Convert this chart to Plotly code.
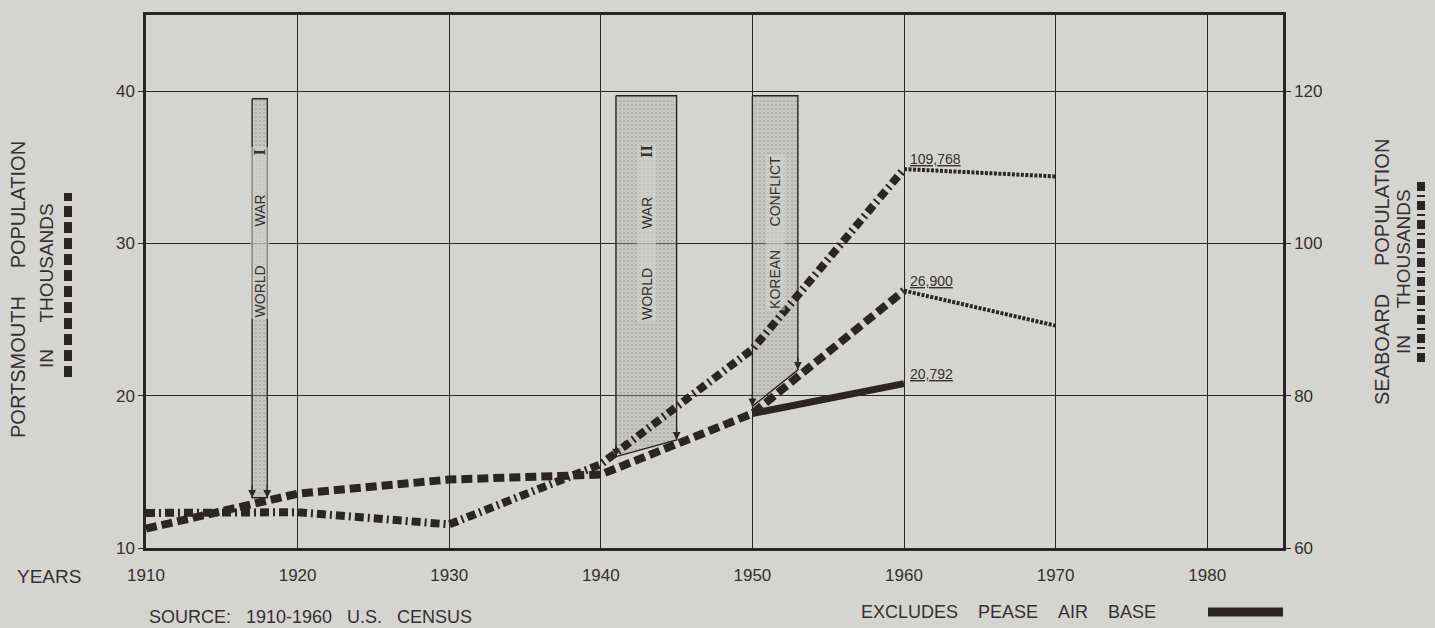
import plotly.graph_objects as go

# ---------------- data ----------------
census_years = [1910, 1920, 1930, 1940, 1950, 1960]
portsmouth = [11.269, 13.569, 14.495, 14.821, 18.830, 26.900]      # thousands (left axis)
seaboard = [64.6, 64.7, 63.1, 71.0, 86.1, 109.768]                 # thousands (right axis)
proj_years = [1960, 1970]
portsmouth_proj = [26.900, 24.6]
seaboard_proj = [109.768, 108.8]
pease_years = [1950, 1960]
pease_excl = [18.830, 20.792]

x_ticks = [1910, 1920, 1930, 1940, 1950, 1960, 1970, 1980]
left_ticks = [10, 20, 30, 40]
right_ticks = [60, 80, 100, 120]

war_words = [["WORLD", "WAR", "I"], ["WORLD", "WAR", "II"], ["KOREAN", "CONFLICT"]]
war_start = [1917, 1941, 1950]
war_end = [1918, 1945, 1953]
war_top = [39.5, 39.7, 39.7]
war_bottom_start = [13.3, 16.0, 19.3]
war_bottom_end = [13.3, 17.1, 21.7]
war_text_y = [30.7, 30.7, 30.7]

value_labels = ["109,768", "26,900", "20,792"]

# ---------------- style ----------------
BG = "#d4d5d0"
INK = "#2b2526"
TXT = "#353031"
FONT = "Liberation Sans"
L, R, T, B = 146, 1283, 15, 548
W, H = R - L, B - T
NB = "\u00a0"


def xp(px):
    return (px - L) / W


def yp(py):
    return (B - py) / H


def label(x, y, text, size=19, angle=0, xanchor="center"):
    fig.add_annotation(x=xp(x), y=yp(y), xref="paper", yref="paper", text=text,
                       textangle=angle, showarrow=False, xanchor=xanchor, yanchor="middle",
                       font=dict(family=FONT, size=size, color=TXT))


fig = go.Figure()

# war bars
for i in range(len(war_start)):
    x0, x1 = war_start[i], war_end[i]
    fig.add_trace(go.Scatter(
        x=[x0, x1, x1, x0, x0],
        y=[war_top[i], war_top[i], war_bottom_end[i], war_bottom_start[i], war_top[i]],
        mode="lines", fill="toself",
        line=dict(color=INK, width=1.4),
        fillcolor="rgba(165,166,161,0.40)",
        fillpattern=dict(shape=".", fgcolor="rgba(110,110,106,0.5)",
                         bgcolor="rgba(175,176,171,0.38)", size=4, solidity=0.25),
        hoverinfo="skip", showlegend=False,
    ))
    for xe, yb in ((x0, war_bottom_start[i]), (x1, war_bottom_end[i])):
        fig.add_annotation(x=xe, y=yb, xref="x", yref="y", ax=0, ay=-14,
                           showarrow=True, arrowhead=2, arrowsize=1.3, arrowwidth=1.2,
                           arrowcolor=INK, text="")
    words = war_words[i]
    gap = NB * (10 if len(words) == 3 else 6)
    parts = []
    for w in words:
        if w in ("I", "II"):
            parts.append('<span style="font-family:DejaVu Serif;font-weight:bold">%s</span>' % w)
        else:
            parts.append(w)
    fig.add_annotation(x=(x0 + x1) / 2, y=war_text_y[i], xref="x", yref="y",
                       text=gap.join(parts), textangle=-90, showarrow=False,
                       xanchor="center", yanchor="middle",
                       font=dict(family=FONT, size=14, color=TXT),
                       bgcolor="rgba(212,213,208,0.55)", borderpad=1)

# Portsmouth census (heavy dashed)
fig.add_trace(go.Scatter(x=census_years, y=portsmouth, mode="lines",
                         line=dict(color=INK, width=8, dash="11px,5px"),
                         showlegend=False, hoverinfo="skip"))
# Seaboard census (heavy dash-dot)
fig.add_trace(go.Scatter(x=census_years, y=seaboard, mode="lines", yaxis="y2",
                         line=dict(color=INK, width=8, dash="9px,4px,2px,4px"),
                         showlegend=False, hoverinfo="skip"))
# projections (fine dotted)
fig.add_trace(go.Scatter(x=proj_years, y=portsmouth_proj, mode="lines",
                         line=dict(color=INK, width=4, dash="3px,1.5px"),
                         showlegend=False, hoverinfo="skip"))
fig.add_trace(go.Scatter(x=proj_years, y=seaboard_proj, mode="lines", yaxis="y2",
                         line=dict(color=INK, width=4, dash="3px,1.5px"),
                         showlegend=False, hoverinfo="skip"))
# Excluding Pease AFB (solid)
fig.add_trace(go.Scatter(x=pease_years, y=pease_excl, mode="lines",
                         line=dict(color=INK, width=7),
                         showlegend=False, hoverinfo="skip"))

# value labels at 1960
for txt, val, yr in ((value_labels[0], seaboard[-1], "y2"),
                     (value_labels[1], portsmouth[-1], "y"),
                     (value_labels[2], pease_excl[-1], "y")):
    fig.add_annotation(x=census_years[-1], y=val, xref="x", yref=yr,
                       text="<u>%s</u>" % txt, showarrow=False,
                       xanchor="left", yanchor="bottom", xshift=4, yshift=0,
                       font=dict(family=FONT, size=14, color=TXT))

# axis titles
sp = NB * 5
label(18, 290, "PORTSMOUTH" + sp + "POPULATION", size=20, angle=-90)
label(46, 286, "IN" + sp + "THOUSANDS", angle=-90)
label(1382, 272, "SEABOARD" + sp + "POPULATION", size=20, angle=-90)
label(1403, 272, "IN" + sp + "THOUSANDS", angle=-90)

# legend samples
fig.add_shape(type="line", xref="paper", yref="paper", x0=xp(68), x1=xp(68),
              y0=yp(377), y1=yp(193), line=dict(color=INK, width=8, dash="11px,5px"))
fig.add_shape(type="line", xref="paper", yref="paper", x0=xp(1421), x1=xp(1421),
              y0=yp(362), y1=yp(181), line=dict(color=INK, width=8, dash="9px,4px,2px,4px"))
fig.add_shape(type="line", xref="paper", yref="paper", x0=xp(1208), x1=xp(1283),
              y0=yp(612), y1=yp(612), line=dict(color=INK, width=9))

# bottom texts
label(49, 576, "YEARS")
label(147, 617, "SOURCE:" + NB * 3 + "1910-1960" + NB * 3 + "U.S." + NB * 3 + "CENSUS",
      size=18, xanchor="left")
label(859, 612, (NB * 4).join(["EXCLUDES", "PEASE", "AIR", "BASE"]), size=18, xanchor="left")

fig.update_layout(
    width=1435, height=628,
    margin=dict(l=L, r=1435 - R, t=T, b=628 - B),
    paper_bgcolor=BG, plot_bgcolor=BG,
    showlegend=False,
    xaxis=dict(range=[1910, 1985], tickvals=x_ticks, ticktext=[str(v) for v in x_ticks],
               showgrid=True, gridcolor=INK, gridwidth=1.3, zeroline=False,
               showline=True, mirror=True, linecolor=INK, linewidth=2.5,
               ticks="outside", ticklen=10, tickcolor="rgba(0,0,0,0)",
               tickfont=dict(family=FONT, size=17, color=TXT)),
    yaxis=dict(range=[10, 45], tickvals=left_ticks, showgrid=True, gridcolor=INK,
               gridwidth=1.3, zeroline=False, showline=True, mirror=True,
               linecolor=INK, linewidth=2.5, ticks="outside", ticklen=5,
               tickcolor=INK, tickfont=dict(family=FONT, size=17, color=TXT)),
    yaxis2=dict(range=[60, 130], tickvals=right_ticks, overlaying="y", side="right",
                showgrid=False, zeroline=False, showline=True, linecolor=INK,
                linewidth=2.5, ticks="outside", ticklen=5, tickcolor=INK,
                tickfont=dict(family=FONT, size=17, color=TXT)),
)

fig.write_html("out.html", config={"displayModeBar": False},
               post_script="document.body.style.margin='0';"
                           "document.body.style.background='%s';" % BG)
